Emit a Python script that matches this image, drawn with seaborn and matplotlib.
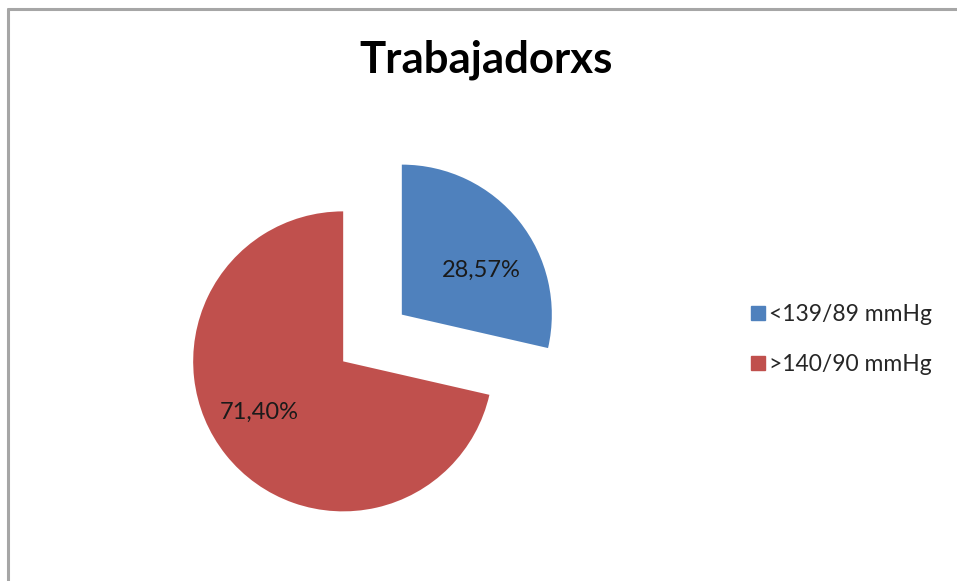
import matplotlib
matplotlib.use("Agg")
import matplotlib.pyplot as plt
from matplotlib.lines import Line2D
import seaborn as sns

categories = ["<139/89 mmHg", ">140/90 mmHg"]
values = [28.57, 71.40]
colors = ["#4F81BD", "#C0504D"]
title = "Trabajadorxs"

sns.set_theme(style="white", rc={"figure.facecolor": "white"})
plt.rcParams["font.family"] = ["Lato", "DejaVu Sans"]

W, H = 957, 581
fig = plt.figure(figsize=(W / 100, H / 100), dpi=100)
ax = fig.add_axes([0, 0, 1, 1])

vals = iter(values)
wedges, texts, autotexts = ax.pie(
    values,
    labels=None,
    colors=colors,
    explode=[0.25, 0.25],
    startangle=90,
    counterclock=False,
    autopct=lambda p: f"{next(vals):.2f}%".replace(".", ","),
    pctdistance=0.63,
    wedgeprops={"linewidth": 0},
    textprops={"fontsize": 17, "color": "#1a1a1a"},
)

# 1 data unit = 150 px, pie centre at (372.5, 338) px
r_px, cx, cy = 150, 372.5, 338
# small nudges so labels sit where Excel put them (px: right, down)
for t, (dx, dy) in zip(autotexts, [(6, 15), (-10, -8)]):
    x, y = t.get_position()
    t.set_position((x + dx / r_px, y - dy / r_px))

ax.set_xlim(-cx / r_px, (W - cx) / r_px)
ax.set_ylim(-(H - cy) / r_px, cy / r_px)
ax.axis("off")

fig.text(486 / W, 1 - 60 / H, title, ha="center", va="center",
         fontsize=31.5, fontweight="bold", color="black")

handles = [Line2D([], [], marker="s", ls="", markersize=10, color=c) for c in colors]
fig.legend(handles, categories, loc="center left",
           bbox_to_anchor=(732 / W, 1 - 339.5 / H), frameon=False,
           fontsize=16.5, handlelength=0.5, handletextpad=0.2,
           labelspacing=1.25)

# chart area border (left and top edges visible)
fig.add_artist(Line2D([8 / W, 8 / W], [0, 1 - 8.5 / H], color="#A6A6A6", lw=2.2,
                      transform=fig.transFigure))
fig.add_artist(Line2D([8 / W, 1], [1 - 8.5 / H, 1 - 8.5 / H], color="#A6A6A6", lw=2.2,
                      transform=fig.transFigure))

fig.savefig("out.png", dpi=100)
